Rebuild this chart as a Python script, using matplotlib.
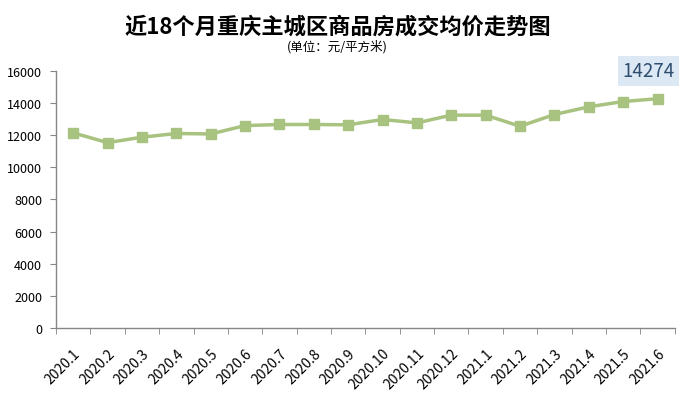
import matplotlib
matplotlib.use('Agg')
import matplotlib.pyplot as plt
from matplotlib.ticker import FixedLocator

plt.rcParams['font.family'] = ['Noto Sans CJK SC', 'DejaVu Sans']

# months and average price (yuan / m2)
months = ['2020.1', '2020.2', '2020.3', '2020.4', '2020.5', '2020.6', '2020.7', '2020.8', '2020.9',
          '2020.10', '2020.11', '2020.12', '2021.1', '2021.2', '2021.3', '2021.4', '2021.5', '2021.6']
prices = [12150, 11540, 11880, 12110, 12080, 12600, 12670, 12670, 12650,
          12980, 12770, 13250, 13250, 12560, 13290, 13770, 14100, 14274]
yticks = [0, 2000, 4000, 6000, 8000, 10000, 12000, 14000, 16000]

title = '近18个月重庆主城区商品房成交均价走势图'
subtitle = '(单位：元/平方米)'

fig = plt.figure(figsize=(6.89, 4.02), dpi=100)
ax = fig.add_axes([0.0813, 0.1816, 0.898, 0.6393])

x = list(range(len(months)))
ax.plot(x, prices, color='#A8C280', lw=2.5, marker='s', ms=7.5, mec='#A8C280', mfc='#A8C280')

ax.set_xlim(-0.5, len(months) - 0.5)
ax.set_ylim(0, 16000)
ax.set_yticks(yticks)
ax.set_yticklabels([str(v) for v in yticks], fontsize=9)
ax.set_xticks(x)
ax.set_xticklabels(months, fontsize=10, rotation=45, ha='right', rotation_mode='anchor')
ax.tick_params(axis='x', which='major', length=0, pad=13)
ax.xaxis.set_minor_locator(FixedLocator([i - 0.5 for i in range(len(months) + 1)]))
ax.tick_params(axis='x', which='minor', length=4, color='#868686', direction='out')
ax.tick_params(axis='y', length=4, color='#868686', pad=6)

for s in ['top', 'right']:
    ax.spines[s].set_visible(False)
for s in ['left', 'bottom']:
    ax.spines[s].set_color('#868686')
    ax.spines[s].set_linewidth(1)

# label for the last month
ax.annotate(str(prices[-1]), xy=(x[-1], prices[-1]), xytext=(-6.5, 20), textcoords='offset points',
            ha='center', va='center', fontsize=13.5, color='#2F4F70',
            bbox=dict(boxstyle='square,pad=0.22', fc='#DCE9F4', ec='none'))

fig.text(0.49, 1 - 27 / 402, title, ha='center', va='center', fontsize=16, fontweight='bold')
fig.text(0.49, 1 - 47 / 402, subtitle, ha='center', va='center', fontsize=9)

fig.savefig('out.png', dpi=100)
